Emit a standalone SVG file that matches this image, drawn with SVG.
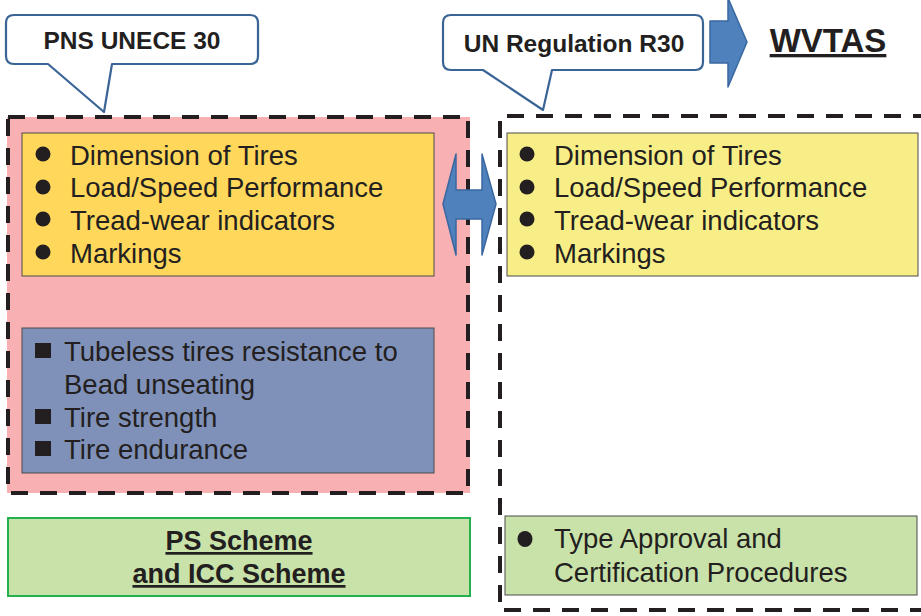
<svg xmlns="http://www.w3.org/2000/svg" width="921" height="616" viewBox="0 0 921 616">
<style>
.t{font-family:"Liberation Sans",Arial,sans-serif;font-size:27.5px;fill:#231F20}
.b{font-family:"Liberation Sans",Arial,sans-serif;font-weight:bold;fill:#231F20}
.dash{fill:none;stroke:#231F20;stroke-width:4;stroke-dasharray:17 12}
.call{fill:#fff;stroke:#3A6496;stroke-width:2.2;stroke-linejoin:round}
.arr{fill:#4F81BD;stroke:#3A67A0;stroke-width:1.5;stroke-linejoin:round}
.box{stroke:#4a4a4a;stroke-width:1}
</style>
<g id="left-group">
<rect x="7" y="117" width="463" height="376" fill="#F8B0B3"/>
<rect x="8" y="117" width="460" height="376" class="dash"/>
</g>
<g id="right-group">
<path d="M930,116 H500 V610 H930" class="dash"/>
</g>
<g id="left-yellow">
<rect x="22" y="133" width="412" height="143" fill="#FFD75B" class="box"/>
<circle cx="43" cy="154" r="7.5" fill="#231F20"/>
<circle cx="43" cy="187" r="7.5" fill="#231F20"/>
<circle cx="43" cy="219" r="7.5" fill="#231F20"/>
<circle cx="43" cy="252" r="7.5" fill="#231F20"/>
<text class="t" x="70" y="165">Dimension of Tires</text>
<text class="t" x="70" y="197">Load/Speed Performance</text>
<text class="t" x="70" y="230">Tread-wear indicators</text>
<text class="t" x="70" y="263">Markings</text>
</g>
<g id="left-blue">
<rect x="22" y="328" width="412" height="145" fill="#7F91B9" class="box"/>
<rect x="35" y="343" width="16" height="15" fill="#231F20"/>
<rect x="35" y="409" width="16" height="15" fill="#231F20"/>
<rect x="35" y="441" width="16" height="15" fill="#231F20"/>
<text class="t" x="64" y="361">Tubeless tires resistance to</text>
<text class="t" x="64" y="394">Bead unseating</text>
<text class="t" x="64" y="427">Tire strength</text>
<text class="t" x="64" y="459">Tire endurance</text>
</g>
<g id="right-yellow">
<rect x="507" y="133" width="411" height="143" fill="#F8EE87" class="box"/>
<circle cx="527" cy="154" r="7.5" fill="#231F20"/>
<circle cx="527" cy="187" r="7.5" fill="#231F20"/>
<circle cx="527" cy="219" r="7.5" fill="#231F20"/>
<circle cx="527" cy="252" r="7.5" fill="#231F20"/>
<text class="t" x="554" y="165">Dimension of Tires</text>
<text class="t" x="554" y="197">Load/Speed Performance</text>
<text class="t" x="554" y="230">Tread-wear indicators</text>
<text class="t" x="554" y="263">Markings</text>
</g>
<g id="ps-scheme">
<rect x="8" y="518" width="462" height="78" fill="#C9E2A9" stroke="#22B14C" stroke-width="2"/>
<text class="b" x="239" y="550" font-size="27" text-anchor="middle" text-decoration="underline">PS Scheme</text>
<text class="b" x="239" y="583" font-size="27" text-anchor="middle" text-decoration="underline">and ICC Scheme</text>
</g>
<g id="type-approval">
<rect x="505" y="516" width="412" height="79" fill="#C9E2A9" class="box"/>
<ellipse cx="525" cy="539" rx="7.5" ry="8" fill="#231F20"/>
<text class="t" x="554" y="548" font-size="27">Type Approval and</text>
<text class="t" x="554" y="582" font-size="27">Certification Procedures</text>
</g>
<g id="callout-pns">
<path class="call" d="M14,15 H250 Q258,15 258,23 V56 Q258,64 250,64 H112 L104,112 L48,64 H14 Q6,64 6,56 V23 Q6,15 14,15 Z"/>
<text class="b" x="132" y="49" font-size="24.5" text-anchor="middle">PNS UNECE 30</text>
</g>
<g id="callout-un">
<path class="call" d="M451,15 H695 Q703,15 703,23 V62 Q703,70 695,70 H552 L543,110 L483,70 H451 Q443,70 443,62 V23 Q443,15 451,15 Z"/>
<text class="b" x="574" y="52" font-size="24.5" text-anchor="middle">UN Regulation R30</text>
</g>
<g id="wvtas">
<text class="b" x="828" y="52" font-size="33" text-anchor="middle" text-decoration="underline">WVTAS</text>
</g>
<g id="connectors">
<path class="arr" d="M710,21 H728 V-2 L747,42 L728,87 V63 H710 Z"/>
<path class="arr" d="M443,204 L456,154 V190 H482 V154 L496,204 L482,255 V219 H456 V255 Z"/>
</g>
</svg>
